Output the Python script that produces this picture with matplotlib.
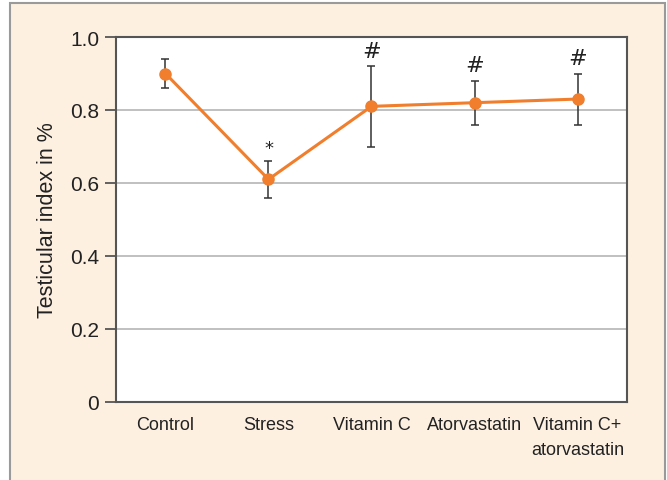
import matplotlib
matplotlib.use('Agg')
import matplotlib.pyplot as plt
from matplotlib.patches import Rectangle

# data
groups = ['Control', 'Stress', 'Vitamin C', 'Atorvastatin', 'Vitamin C+\natorvastatin']
index_mean = [0.90, 0.61, 0.81, 0.82, 0.83]
index_err = [0.04, 0.05, 0.11, 0.06, 0.07]
marks = ['', '*', '#', '#', '#']

yticks = [0, 0.2, 0.4, 0.6, 0.8, 1.0]
ytick_labels = ['0', '0.2', '0.4', '0.6', '0.8', '1.0']

plt.rcParams['font.family'] = ['Liberation Sans', 'DejaVu Sans']

fig = plt.figure(figsize=(6.67, 4.81), dpi=100)
fig.patch.set_facecolor('white')

# beige panel behind everything
panel = Rectangle((10/667, -0.01), 655/667, 1 - 4/481 + 0.01,
                  transform=fig.transFigure, facecolor='#fdf0e1',
                  edgecolor='#9a9a9a', linewidth=1.5, zorder=-5)
fig.add_artist(panel)

ax = fig.add_axes([116/667, 78/481, 511/667, 365/481])
ax.set_facecolor('white')

xs = range(len(groups))
ax.errorbar(xs, index_mean, yerr=index_err, fmt='none', ecolor='#333333',
            elinewidth=1.1, capsize=3, capthick=1.1, zorder=3)
ax.plot(xs, index_mean, '-o', color='#f07e2d', lw=2.2, ms=8, zorder=4)

# significance marks
for x, m, e, t in zip(xs, index_mean, index_err, marks):
    if t == '*':
        ax.text(x, m + e + 0.012, t, ha='center', va='bottom', fontsize=13,
                color='#222222', family='DejaVu Sans')
    elif t:
        ax.text(x, m + e + 0.015, t, ha='center', va='bottom', fontsize=16,
                color='#222222', family='DejaVu Sans')

ax.set_xlim(-0.48, 4.48)
ax.set_ylim(0, 1.0)
ax.set_yticks(yticks)
ax.set_yticklabels(ytick_labels, fontsize=15)
ax.set_xticks(list(xs))
ax.set_xticklabels(groups, fontsize=13, linespacing=1.6)
ax.yaxis.grid(True, color='#b5b5b5', lw=1.2)
ax.set_axisbelow(True)

for s in ax.spines.values():
    s.set_color('#555555')
    s.set_linewidth(1.5)
ax.tick_params(axis='y', length=8, width=1.3, color='#555555', pad=4, labelcolor='#222222')
ax.tick_params(axis='x', length=0, pad=10, labelcolor='#222222')

ax.set_ylabel('Testicular index in %', fontsize=15.5, color='#222222', labelpad=9)

fig.savefig('out.png', dpi=100, facecolor=fig.get_facecolor())
